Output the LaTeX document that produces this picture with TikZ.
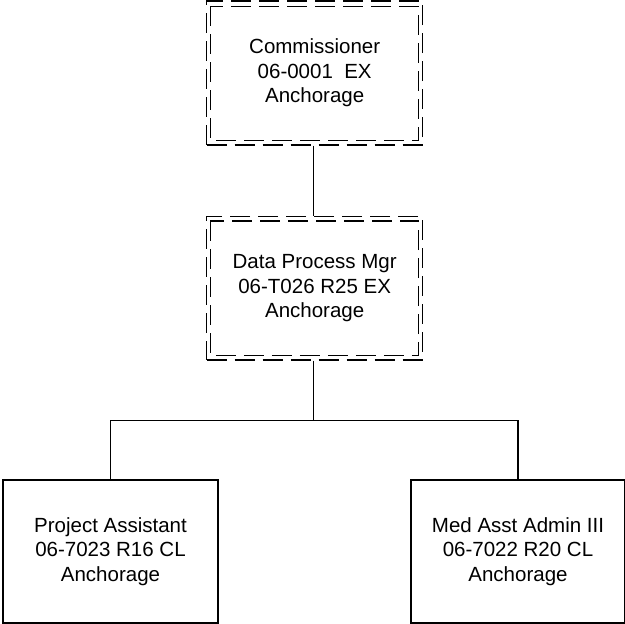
\documentclass[tikz,border=0pt]{standalone}
\usepackage{fontspec}
\setmainfont{Liberation Sans}
\begin{document}
\begin{tikzpicture}[x=1pt,y=1pt,
  lbl/.style={align=center,font=\fontsize{20.5}{24.5}\selectfont,inner sep=0pt},
  solidbox/.style={draw,line width=1.3pt},
  dashbox/.style={draw,line width=1.3pt,dash pattern=on 20pt off 8pt},
  conn/.style={draw,line width=1.3pt}]
\useasboundingbox (0,0) rectangle (625,-624);
% top box (outer outline as node)
\node[dashbox,minimum width=216pt,minimum height=144pt,inner sep=0pt] (top) at (314.7,-73) {};
\node[lbl] (toptxt) at (top.center) {Commissioner\\06-0001\ \ EX\\Anchorage};
\draw[dashbox] ([shift={(4.3pt,-6pt)}]top.north west) rectangle ([shift={(-5pt,5pt)}]top.south east);
% middle box
\node[dashbox,minimum width=216pt,minimum height=143.3pt,inner sep=0pt] (mid) at (314.7,-288.3) {};
\node[lbl] (midtxt) at (mid.center) {Data Process Mgr\\06-T026 R25 EX\\Anchorage};
\draw[dashbox] ([shift={(4.3pt,-5pt)}]mid.north west) rectangle ([shift={(-5pt,5pt)}]mid.south east);
% bottom boxes
\node[solidbox,minimum width=215pt,minimum height=143pt,inner sep=0pt] (pa) at (110.5,-551.5) {};
\node[lbl] (patxt) at (pa.center) {Project Assistant\\06-7023 R16 CL\\Anchorage};
\node[solidbox,minimum width=214pt,minimum height=143pt,inner sep=0pt] (ma) at (518,-551.5) {};
\node[lbl] (matxt) at (ma.center) {Med Asst Admin III\\06-7022 R20 CL\\Anchorage};
% connectors
\coordinate (bar) at (313.3,-420.7);
\draw[conn] (top.south -| bar) -- (mid.north -| bar);
\draw[conn] (mid.south -| bar) -- (bar);
\draw[conn] (pa.north) |- (bar) -| (ma.north);
\end{tikzpicture}
\end{document}
